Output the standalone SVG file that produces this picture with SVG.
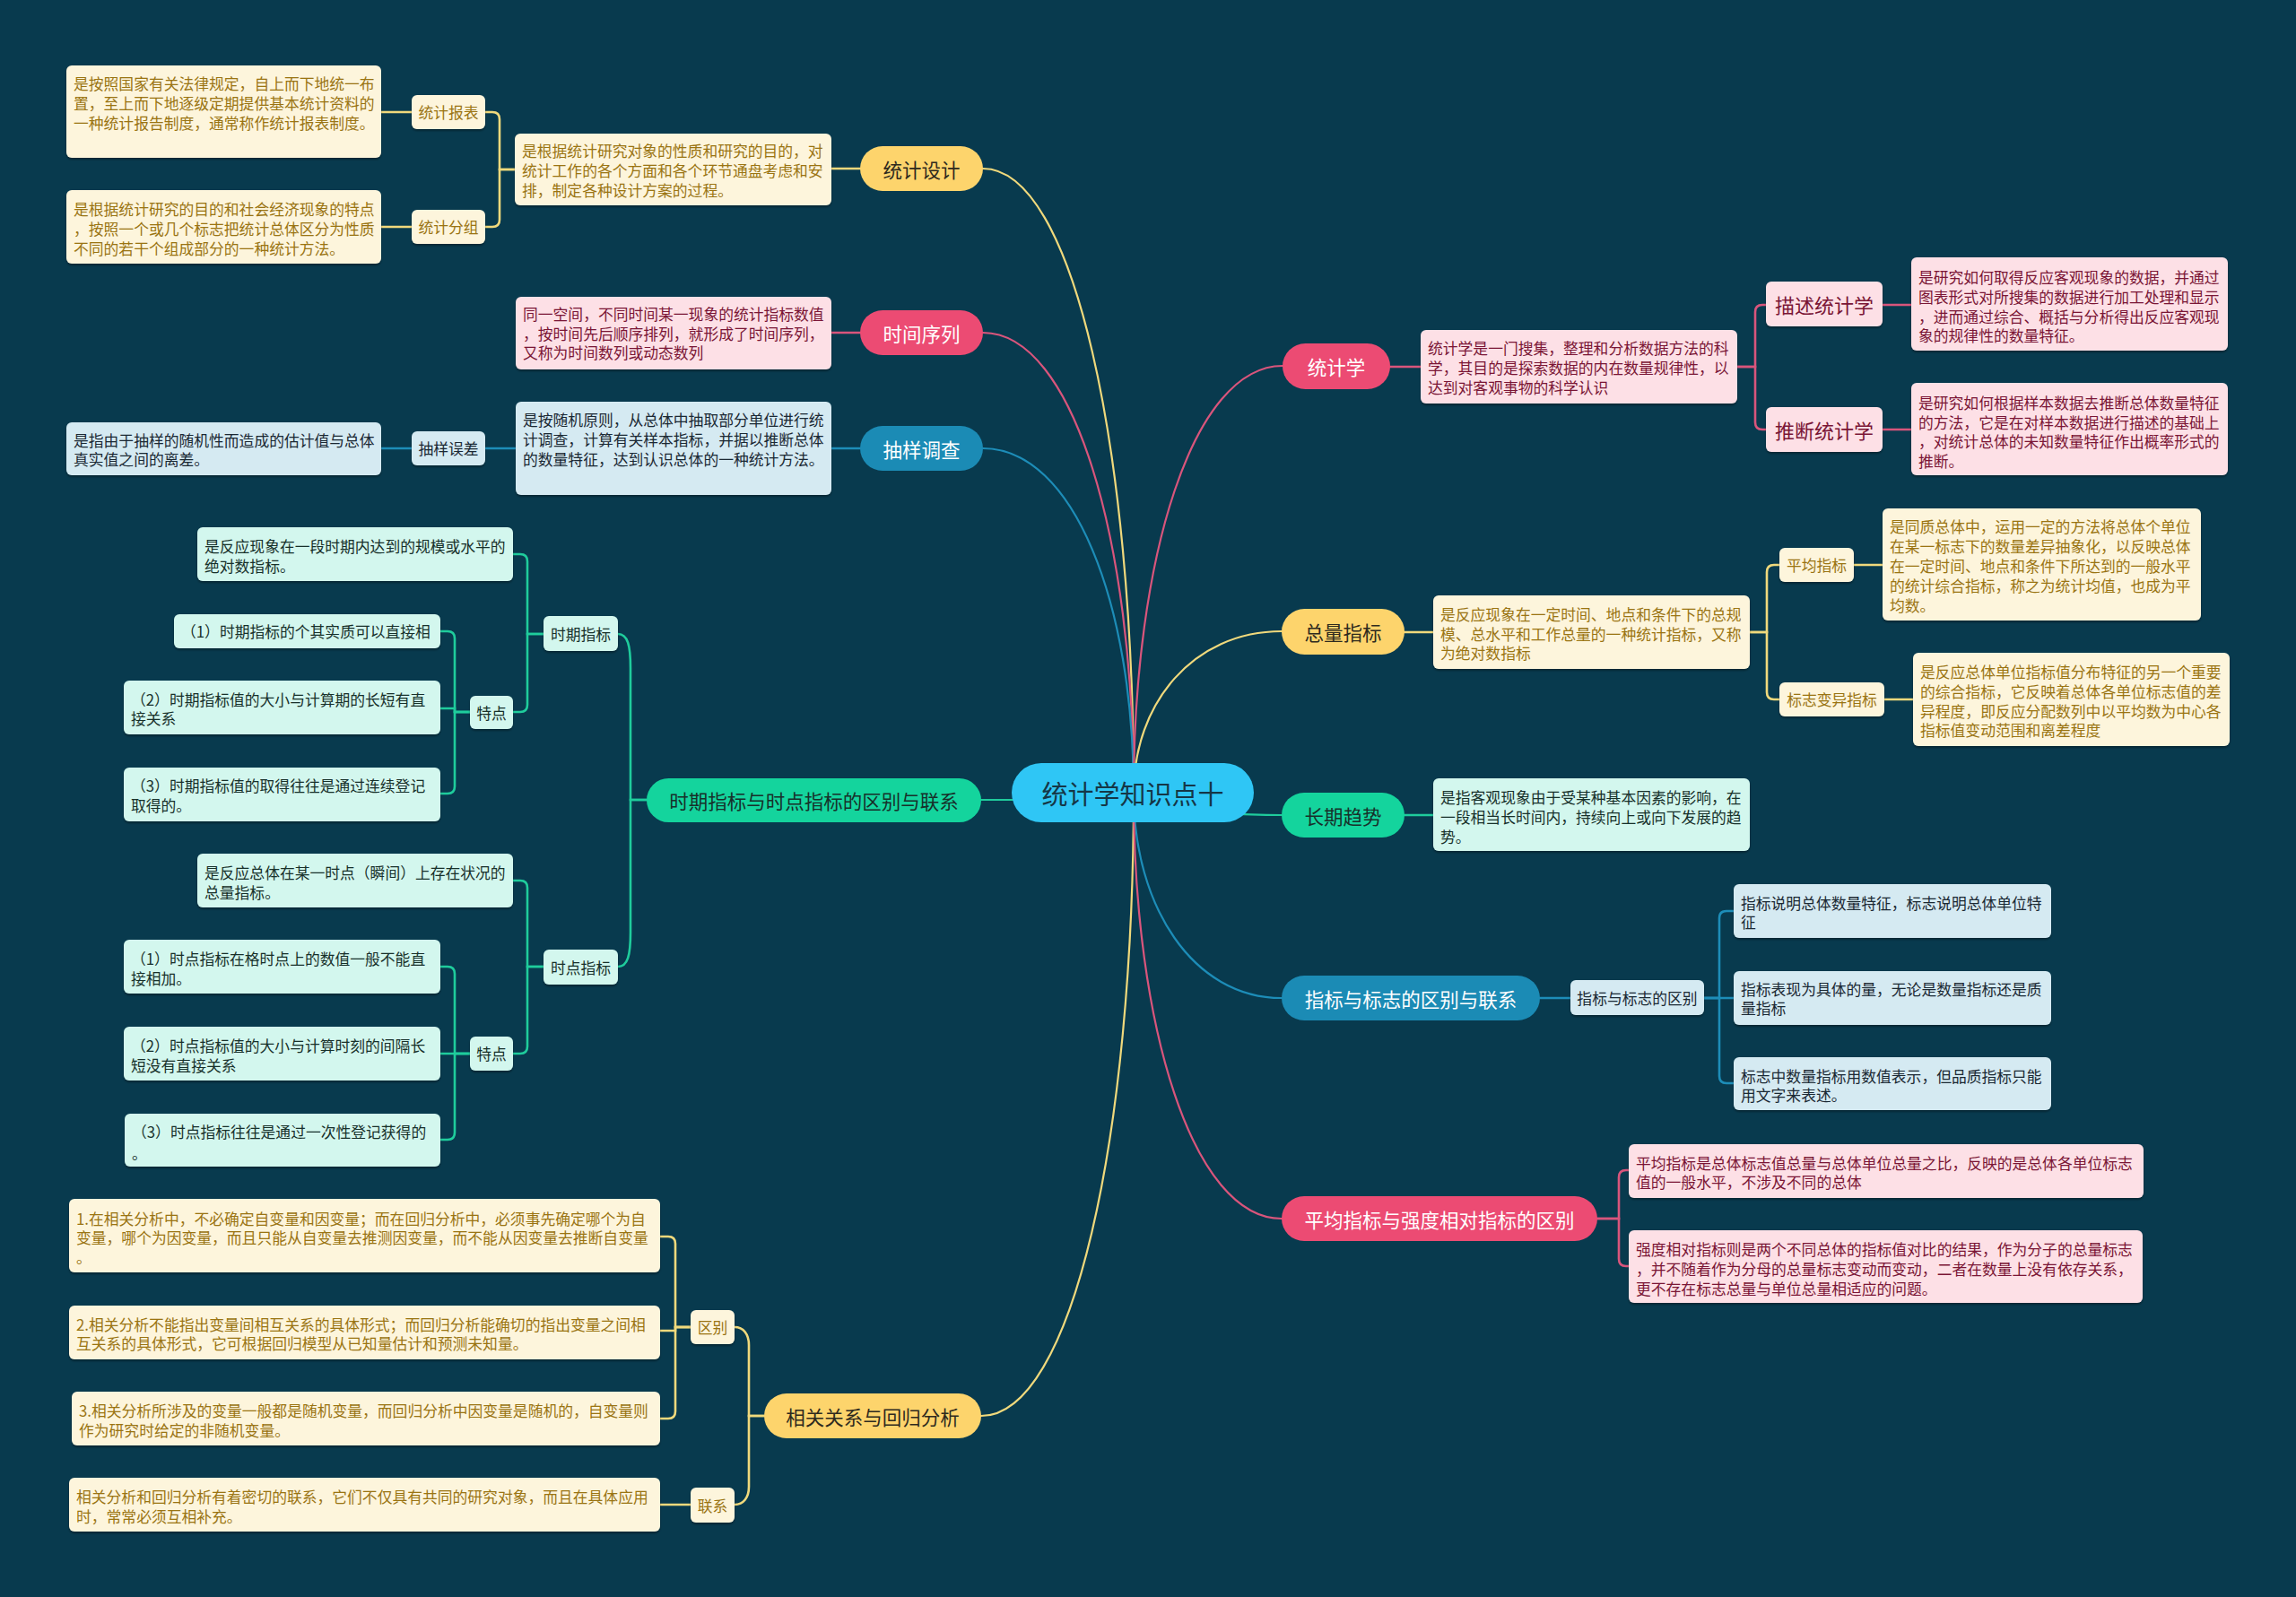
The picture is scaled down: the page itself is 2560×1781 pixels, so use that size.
<svg xmlns="http://www.w3.org/2000/svg" width="2560" height="1781" viewBox="0 0 2560 1781">
<defs>
<filter id="sh" x="-5%" y="-10%" width="110%" height="130%"><feDropShadow dx="0" dy="2" stdDeviation="1" flood-color="#000" flood-opacity="0.35"/></filter>
<style>
text{font-family:"Noto Sans CJK SC","Noto Sans",sans-serif;dominant-baseline:central}
.s{font-size:16.8px}
.m{font-size:21.5px}
.l{font-size:22px}
.c{font-size:29px}
.mid{text-anchor:middle}
.box{filter:url(#sh)}
.fy{fill:#fdd46c}.fyl{fill:#fdf5dc}.ty{fill:#9a7412}.tyd{fill:#2e2a1e}
.fp{fill:#ec4b73}.fpl{fill:#fde0e6}.tp{fill:#7a1535}.tw{fill:#ffffff}
.fb{fill:#1b8bb5}.fbl{fill:#d5eaf2}.tb{fill:#1a2833}
.fg{fill:#14d49d}.fgl{fill:#d3f7ee}.tg{fill:#17302a}
.cy{stroke:#f0d97c}.cp{stroke:#d9557c}.cb{stroke:#1d8db8}.cg{stroke:#1fcc9c}
#connectors path{fill:none;stroke-width:2.6;stroke-linecap:round}
#connectors .main{stroke-width:2.2}
</style>
</defs>
<rect width="2560" height="1781" fill="#083a4e"/>

<g id="connectors">
<path class="main cy" d="M1096,188 C1197,188 1264,501 1264,884"/>
<path class="main cp" d="M1096,371 C1197,371 1264,602 1264,884"/>
<path class="main cb" d="M1096,500 C1197,500 1264,673 1264,884"/>
<path class="main cg" d="M1094,892 L1200,892"/>
<path class="main cy" d="M1094,1579 C1196,1579 1264,1266 1264,884"/>
<path class="main cp" d="M1430,408 C1330,408 1264,622 1264,884"/>
<path class="main cy" d="M1429,704 C1330,704 1264,785 1264,884"/>
<path class="main cg" d="M1429,909 C1330,909 1264,895 1264,884"/>
<path class="main cb" d="M1429,1113 C1330,1113 1264,1010 1264,884"/>
<path class="main cp" d="M1429,1359 C1330,1359 1264,1145 1264,884"/>

<path class="cy" d="M959,188 H927"/>
<path class="cy" d="M574,189 H557 V133 Q557,125 549,125 H541"/>
<path class="cy" d="M574,189 H557 V245 Q557,253 549,253 H541"/>
<path class="cy" d="M459,125 H425"/>
<path class="cy" d="M459,253 H425"/>

<path class="cp" d="M959,371 H927"/>

<path class="cb" d="M959,500 H927"/>
<path class="cb" d="M575,500 H541"/>
<path class="cb" d="M459,500 H425"/>

<path class="cg" d="M721,892 H703 V745 C703,720 700,707 689,707"/>
<path class="cg" d="M721,892 H703 V1040 C703,1065 700,1078 689,1078"/>
<path class="cg" d="M606,707 H588 V626 Q588,618 580,618 H572"/>
<path class="cg" d="M606,707 H588 V786 Q588,794 580,794 H572"/>
<path class="cg" d="M524,794 H507 V712 Q507,704 499,704 H491"/>
<path class="cg" d="M524,794 H507 V790 H491"/>
<path class="cg" d="M524,794 H507 V877 Q507,885 499,885 H491"/>
<path class="cg" d="M606,1078 H588 V990 Q588,982 580,982 H572"/>
<path class="cg" d="M606,1078 H588 V1167 Q588,1175 580,1175 H572"/>
<path class="cg" d="M524,1175 H507 V1086 Q507,1078 499,1078 H491"/>
<path class="cg" d="M524,1175 H491"/>
<path class="cg" d="M524,1175 H507 V1263 Q507,1271 499,1271 H491"/>

<path class="cy" d="M852,1579 H835 V1500 C835,1488 829,1480 819,1480"/>
<path class="cy" d="M852,1579 H835 V1658 C835,1670 829,1678 819,1678"/>
<path class="cy" d="M770,1480 H753 V1387 Q753,1379 745,1379 H736"/>
<path class="cy" d="M770,1480 H753 V1484 H736"/>
<path class="cy" d="M770,1480 H753 V1574 Q753,1582 745,1582 H736"/>
<path class="cy" d="M770,1678 H736"/>

<path class="cp" d="M1550,409 H1584"/>
<path class="cp" d="M1937,409 H1957 V348 Q1957,340 1965,340 H1969"/>
<path class="cp" d="M1937,409 H1957 V471 Q1957,479 1965,479 H1969"/>
<path class="cp" d="M2099,340 H2131"/>
<path class="cp" d="M2099,479 H2131"/>

<path class="cy" d="M1566,705 H1598"/>
<path class="cy" d="M1951,705 H1970 V638 Q1970,630 1978,630 H1984"/>
<path class="cy" d="M1951,705 H1970 V772 Q1970,780 1978,780 H1984"/>
<path class="cy" d="M2067,630 H2099"/>
<path class="cy" d="M2101,780 H2133"/>

<path class="cg" d="M1566,909 H1598"/>

<path class="cb" d="M1717,1113 H1751"/>
<path class="cb" d="M1900,1113 H1917 V1024 Q1917,1016 1925,1016 H1933"/>
<path class="cb" d="M1900,1113 H1933"/>
<path class="cb" d="M1900,1113 H1917 V1200 Q1917,1208 1925,1208 H1933"/>

<path class="cp" d="M1781,1359 H1805 V1313 Q1805,1305 1813,1305 H1816"/>
<path class="cp" d="M1781,1359 H1805 V1404 Q1805,1412 1813,1412 H1816"/>
</g>

<g id="root">
<rect x="1128" y="851" width="270" height="66" rx="33" fill="#2fc6f5"/>
<text class="c mid" x="1263" y="884" fill="#153646">统计学知识点十</text>
</g>

<!-- 统计设计 branch -->
<g id="n-tjsj"><rect class="fy" x="959" y="163" width="137" height="50" rx="25"/><text class="m mid tyd" x="1027.5" y="188">统计设计</text></g>
<g id="n-tjsj-d"><rect class="box fyl" x="574" y="149" width="353" height="80" rx="6"/><text class="s ty"><tspan x="582" y="168">是根据统计研究对象的性质和研究的目的，对</tspan><tspan x="582" y="190">统计工作的各个方面和各个环节通盘考虑和安</tspan><tspan x="582" y="212">排，制定各种设计方案的过程。</tspan></text></g>
<g id="n-tjbb"><rect class="box fyl" x="459" y="106" width="82" height="38" rx="6"/><text class="s mid ty" x="500" y="125">统计报表</text></g>
<g id="n-tjbb-d"><rect class="box fyl" x="74" y="73" width="351" height="103" rx="6"/><text class="s ty"><tspan x="82" y="93">是按照国家有关法律规定，自上而下地统一布</tspan><tspan x="82" y="115">置，至上而下地逐级定期提供基本统计资料的</tspan><tspan x="82" y="137">一种统计报告制度，通常称作统计报表制度。</tspan></text></g>
<g id="n-tjfz"><rect class="box fyl" x="459" y="234" width="82" height="38" rx="6"/><text class="s mid ty" x="500" y="253">统计分组</text></g>
<g id="n-tjfz-d"><rect class="box fyl" x="74" y="212" width="351" height="82" rx="6"/><text class="s ty"><tspan x="82" y="233">是根据统计研究的目的和社会经济现象的特点</tspan><tspan x="82" y="255">，按照一个或几个标志把统计总体区分为性质</tspan><tspan x="82" y="277">不同的若干个组成部分的一种统计方法。</tspan></text></g>

<!-- 时间序列 -->
<g id="n-sjxl"><rect class="fp" x="959" y="346" width="137" height="50" rx="25"/><text class="m mid tw" x="1027.5" y="371">时间序列</text></g>
<g id="n-sjxl-d"><rect class="box fpl" x="575" y="331" width="352" height="81" rx="6"/><text class="s tp"><tspan x="583" y="350">同一空间，不同时间某一现象的统计指标数值</tspan><tspan x="583" y="372">，按时间先后顺序排列，就形成了时间序列，</tspan><tspan x="583" y="393">又称为时间数列或动态数列</tspan></text></g>

<!-- 抽样调查 -->
<g id="n-cydc"><rect class="fb" x="959" y="475" width="137" height="50" rx="25"/><text class="m mid tw" x="1027.5" y="500">抽样调查</text></g>
<g id="n-cydc-d"><rect class="box fbl" x="575" y="448" width="352" height="104" rx="6"/><text class="s tb"><tspan x="583" y="468">是按随机原则，从总体中抽取部分单位进行统</tspan><tspan x="583" y="490">计调查，计算有关样本指标，并据以推断总体</tspan><tspan x="583" y="512">的数量特征，达到认识总体的一种统计方法。</tspan></text></g>
<g id="n-cywc"><rect class="box fbl" x="459" y="481" width="82" height="38" rx="6"/><text class="s mid tb" x="500" y="500">抽样误差</text></g>
<g id="n-cywc-d"><rect class="box fbl" x="74" y="471" width="351" height="59" rx="6"/><text class="s tb"><tspan x="82" y="491">是指由于抽样的随机性而造成的估计值与总体</tspan><tspan x="82" y="512">真实值之间的离差。</tspan></text></g>

<!-- 时期指标与时点指标 -->
<g id="n-sqsd"><rect class="fg" x="721" y="868" width="373" height="49" rx="24.5"/><text class="m mid tg" x="907.5" y="892">时期指标与时点指标的区别与联系</text></g>
<g id="n-sqzb"><rect class="box fgl" x="606" y="687" width="83" height="39" rx="6"/><text class="s mid tg" x="647.5" y="707">时期指标</text></g>
<g id="n-sqzb-d"><rect class="box fgl" x="220" y="588" width="352" height="60" rx="6"/><text class="s tg"><tspan x="228" y="609">是反应现象在一段时期内达到的规模或水平的</tspan><tspan x="228" y="631">绝对数指标。</tspan></text></g>
<g id="n-td1"><rect class="box fgl" x="524" y="776" width="48" height="37" rx="6"/><text class="s mid tg" x="548" y="794.5">特点</text></g>
<g id="n-td1-1"><rect class="box fgl" x="194" y="685" width="297" height="38" rx="6"/><text class="s tg" x="202" y="704">（1）时期指标的个其实质可以直接相</text></g>
<g id="n-td1-2"><rect class="box fgl" x="138" y="759" width="353" height="60" rx="6"/><text class="s tg"><tspan x="146" y="780">（2）时期指标值的大小与计算期的长短有直</tspan><tspan x="146" y="801">接关系</tspan></text></g>
<g id="n-td1-3"><rect class="box fgl" x="138" y="856" width="353" height="60" rx="6"/><text class="s tg"><tspan x="146" y="876">（3）时期指标值的取得往往是通过连续登记</tspan><tspan x="146" y="898">取得的。</tspan></text></g>
<g id="n-sdzb"><rect class="box fgl" x="606" y="1059" width="83" height="39" rx="6"/><text class="s mid tg" x="647.5" y="1078.5">时点指标</text></g>
<g id="n-sdzb-d"><rect class="box fgl" x="220" y="952" width="352" height="60" rx="6"/><text class="s tg"><tspan x="228" y="973">是反应总体在某一时点（瞬间）上存在状况的</tspan><tspan x="228" y="995">总量指标。</tspan></text></g>
<g id="n-td2"><rect class="box fgl" x="524" y="1156" width="48" height="38" rx="6"/><text class="s mid tg" x="548" y="1175">特点</text></g>
<g id="n-td2-1"><rect class="box fgl" x="138" y="1048" width="353" height="60" rx="6"/><text class="s tg"><tspan x="146" y="1069">（1）时点指标在格时点上的数值一般不能直</tspan><tspan x="146" y="1091">接相加。</tspan></text></g>
<g id="n-td2-2"><rect class="box fgl" x="138" y="1145" width="353" height="60" rx="6"/><text class="s tg"><tspan x="146" y="1166">（2）时点指标值的大小与计算时刻的间隔长</tspan><tspan x="146" y="1188">短没有直接关系</tspan></text></g>
<g id="n-td2-3"><rect class="box fgl" x="139" y="1242" width="352" height="59" rx="6"/><text class="s tg"><tspan x="147" y="1262">（3）时点指标往往是通过一次性登记获得的</tspan><tspan x="147" y="1286">。</tspan></text></g>

<!-- 相关关系与回归分析 -->
<g id="n-xggx"><rect class="fy" x="852" y="1554" width="242" height="50" rx="25"/><text class="m mid tyd" x="973" y="1579">相关关系与回归分析</text></g>
<g id="n-qb"><rect class="box fyl" x="770" y="1461" width="49" height="38" rx="6"/><text class="s mid ty" x="794.5" y="1480">区别</text></g>
<g id="n-lx"><rect class="box fyl" x="770" y="1659" width="49" height="39" rx="6"/><text class="s mid ty" x="794.5" y="1678.5">联系</text></g>
<g id="n-qb-1"><rect class="box fyl" x="77" y="1337" width="659" height="82" rx="6"/><text class="s ty"><tspan x="85" y="1359">1.在相关分析中，不必确定自变量和因变量；而在回归分析中，必须事先确定哪个为自</tspan><tspan x="85" y="1380">变量，哪个为因变量，而且只能从自变量去推测因变量，而不能从因变量去推断自变量</tspan><tspan x="85" y="1402">。</tspan></text></g>
<g id="n-qb-2"><rect class="box fyl" x="77" y="1456" width="659" height="60" rx="6"/><text class="s ty"><tspan x="85" y="1477">2.相关分析不能指出变量间相互关系的具体形式；而回归分析能确切的指出变量之间相</tspan><tspan x="85" y="1498">互关系的具体形式，它可根据回归模型从已知量估计和预测未知量。</tspan></text></g>
<g id="n-qb-3"><rect class="box fyl" x="80" y="1552" width="656" height="60" rx="6"/><text class="s ty"><tspan x="88" y="1573">3.相关分析所涉及的变量一般都是随机变量，而回归分析中因变量是随机的，自变量则</tspan><tspan x="88" y="1595">作为研究时给定的非随机变量。</tspan></text></g>
<g id="n-lx-1"><rect class="box fyl" x="77" y="1648" width="659" height="60" rx="6"/><text class="s ty"><tspan x="85" y="1669">相关分析和回归分析有着密切的联系，它们不仅具有共同的研究对象，而且在具体应用</tspan><tspan x="85" y="1691">时，常常必须互相补充。</tspan></text></g>

<!-- 统计学 -->
<g id="n-tjx"><rect class="fp" x="1430" y="383" width="120" height="51" rx="25.5"/><text class="m mid tw" x="1490" y="408.5">统计学</text></g>
<g id="n-tjx-d"><rect class="box fpl" x="1584" y="368" width="353" height="82" rx="6"/><text class="s tp"><tspan x="1592" y="388">统计学是一门搜集，整理和分析数据方法的科</tspan><tspan x="1592" y="410">学，其目的是探索数据的内在数量规律性，以</tspan><tspan x="1592" y="432">达到对客观事物的科学认识</tspan></text></g>
<g id="n-mstjx"><rect class="box fpl" x="1969" y="314" width="130" height="50" rx="6"/><text class="l mid tp" x="2034" y="339">描述统计学</text></g>
<g id="n-mstjx-d"><rect class="box fpl" x="2131" y="287" width="353" height="104" rx="6"/><text class="s tp"><tspan x="2139" y="309">是研究如何取得反应客观现象的数据，并通过</tspan><tspan x="2139" y="331">图表形式对所搜集的数据进行加工处理和显示</tspan><tspan x="2139" y="353">，进而通过综合、概括与分析得出反应客观现</tspan><tspan x="2139" y="374">象的规律性的数量特征。</tspan></text></g>
<g id="n-tdtjx"><rect class="box fpl" x="1969" y="454" width="130" height="50" rx="6"/><text class="l mid tp" x="2034" y="479">推断统计学</text></g>
<g id="n-tdtjx-d"><rect class="box fpl" x="2131" y="427" width="353" height="103" rx="6"/><text class="s tp"><tspan x="2139" y="449">是研究如何根据样本数据去推断总体数量特征</tspan><tspan x="2139" y="471">的方法，它是在对样本数据进行描述的基础上</tspan><tspan x="2139" y="492">，对统计总体的未知数量特征作出概率形式的</tspan><tspan x="2139" y="514">推断。</tspan></text></g>

<!-- 总量指标 -->
<g id="n-zlzb"><rect class="fy" x="1429" y="679" width="137" height="51" rx="25.5"/><text class="m mid tyd" x="1497.5" y="704.5">总量指标</text></g>
<g id="n-zlzb-d"><rect class="box fyl" x="1598" y="664" width="353" height="82" rx="6"/><text class="s ty"><tspan x="1606" y="685">是反应现象在一定时间、地点和条件下的总规</tspan><tspan x="1606" y="707">模、总水平和工作总量的一种统计指标，又称</tspan><tspan x="1606" y="728">为绝对数指标</tspan></text></g>
<g id="n-pjzb"><rect class="box fyl" x="1984" y="611" width="83" height="38" rx="6"/><text class="s mid ty" x="2025.5" y="630">平均指标</text></g>
<g id="n-pjzb-d"><rect class="box fyl" x="2099" y="567" width="355" height="125" rx="6"/><text class="s ty"><tspan x="2107" y="587">是同质总体中，运用一定的方法将总体个单位</tspan><tspan x="2107" y="609">在某一标志下的数量差异抽象化，以反映总体</tspan><tspan x="2107" y="631">在一定时间、地点和条件下所达到的一般水平</tspan><tspan x="2107" y="653">的统计综合指标，称之为统计均值，也成为平</tspan><tspan x="2107" y="675">均数。</tspan></text></g>
<g id="n-bzby"><rect class="box fyl" x="1984" y="761" width="117" height="38" rx="6"/><text class="s mid ty" x="2042.5" y="780">标志变异指标</text></g>
<g id="n-bzby-d"><rect class="box fyl" x="2133" y="728" width="353" height="104" rx="6"/><text class="s ty"><tspan x="2141" y="749">是反应总体单位指标值分布特征的另一个重要</tspan><tspan x="2141" y="771">的综合指标，它反映着总体各单位标志值的差</tspan><tspan x="2141" y="793">异程度，即反应分配数列中以平均数为中心各</tspan><tspan x="2141" y="814">指标值变动范围和离差程度</tspan></text></g>

<!-- 长期趋势 -->
<g id="n-cqqs"><rect class="fg" x="1429" y="884" width="137" height="50" rx="25"/><text class="m mid tg" x="1497.5" y="909">长期趋势</text></g>
<g id="n-cqqs-d"><rect class="box fgl" x="1598" y="868" width="353" height="81" rx="6"/><text class="s tg"><tspan x="1606" y="889">是指客观现象由于受某种基本因素的影响，在</tspan><tspan x="1606" y="911">一段相当长时间内，持续向上或向下发展的趋</tspan><tspan x="1606" y="933">势。</tspan></text></g>

<!-- 指标与标志 -->
<g id="n-zbbz"><rect class="fb" x="1429" y="1088" width="288" height="50" rx="25"/><text class="m mid tw" x="1573" y="1113">指标与标志的区别与联系</text></g>
<g id="n-zbbzqb"><rect class="box fbl" x="1751" y="1093" width="149" height="39" rx="6"/><text class="s mid tb" x="1825.5" y="1112.5">指标与标志的区别</text></g>
<g id="n-zbbz-1"><rect class="box fbl" x="1933" y="986" width="354" height="60" rx="6"/><text class="s tb"><tspan x="1941" y="1007">指标说明总体数量特征，标志说明总体单位特</tspan><tspan x="1941" y="1028">征</tspan></text></g>
<g id="n-zbbz-2"><rect class="box fbl" x="1933" y="1083" width="354" height="60" rx="6"/><text class="s tb"><tspan x="1941" y="1103">指标表现为具体的量，无论是数量指标还是质</tspan><tspan x="1941" y="1124">量指标</tspan></text></g>
<g id="n-zbbz-3"><rect class="box fbl" x="1933" y="1179" width="354" height="59" rx="6"/><text class="s tb"><tspan x="1941" y="1200">标志中数量指标用数值表示，但品质指标只能</tspan><tspan x="1941" y="1221">用文字来表述。</tspan></text></g>

<!-- 平均指标与强度相对指标的区别 -->
<g id="n-pjqd"><rect class="fp" x="1429" y="1334" width="352" height="50" rx="25"/><text class="m mid tw" x="1605" y="1359">平均指标与强度相对指标的区别</text></g>
<g id="n-pjqd-1"><rect class="box fpl" x="1816" y="1276" width="574" height="60" rx="6"/><text class="s tp"><tspan x="1824" y="1297">平均指标是总体标志值总量与总体单位总量之比，反映的是总体各单位标志</tspan><tspan x="1824" y="1318">值的一般水平，不涉及不同的总体</tspan></text></g>
<g id="n-pjqd-2"><rect class="box fpl" x="1816" y="1372" width="573" height="81" rx="6"/><text class="s tp"><tspan x="1824" y="1393">强度相对指标则是两个不同总体的指标值对比的结果，作为分子的总量标志</tspan><tspan x="1824" y="1415">，并不随着作为分母的总量标志变动而变动，二者在数量上没有依存关系，</tspan><tspan x="1824" y="1437">更不存在标志总量与单位总量相适应的问题。</tspan></text></g>
</svg>
